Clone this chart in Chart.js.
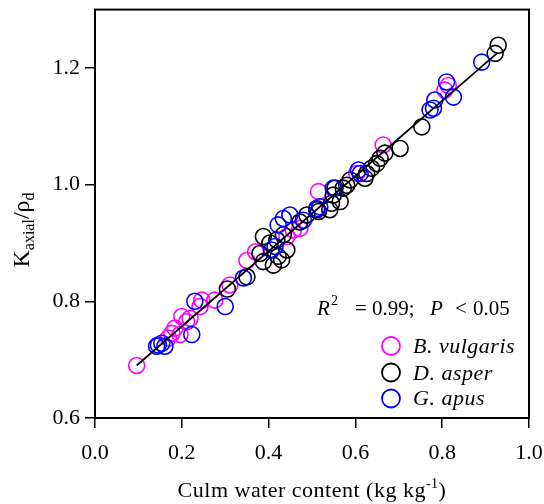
<!DOCTYPE html>
<html><head><meta charset="utf-8">
<script src="https://cdn.jsdelivr.net/npm/chart.js@4"></script>
<style>html,body{margin:0;padding:0;background:#fff}#wrap{width:544px;height:504px}</style>
</head><body><div id="wrap"><canvas id="c" width="544" height="504"></canvas></div>
<script>
// ---- data ----
const bvX=[0.096,0.169,0.177,0.184,0.196,0.200,0.211,0.219,0.242,0.246,0.276,0.311,0.350,0.370,0.442,0.457,0.472,0.515,0.603,0.664,0.806,0.814];
const bvY=[0.690,0.737,0.745,0.754,0.743,0.774,0.765,0.771,0.791,0.802,0.802,0.828,0.870,0.885,0.911,0.922,0.925,0.988,1.019,1.068,1.162,1.170];
const daX=[0.305,0.350,0.380,0.388,0.388,0.403,0.411,0.419,0.422,0.430,0.434,0.442,0.472,0.488,0.511,0.515,0.541,0.545,0.549,0.553,0.565,0.572,0.580,0.588,0.622,0.626,0.637,0.649,0.657,0.668,0.703,0.753,0.922,0.929];
const daY=[0.821,0.842,0.882,0.868,0.911,0.900,0.862,0.905,0.877,0.871,0.914,0.888,0.936,0.948,0.957,0.954,0.957,0.968,0.982,0.994,0.971,0.994,0.999,1.008,1.011,1.019,1.028,1.036,1.045,1.054,1.062,1.099,1.225,1.239];
const gaX=[0.142,0.146,0.154,0.161,0.223,0.230,0.300,0.342,0.407,0.415,0.422,0.434,0.449,0.480,0.511,0.518,0.549,0.607,0.611,0.772,0.780,0.783,0.810,0.826,0.891];
const gaY=[0.723,0.725,0.728,0.723,0.743,0.800,0.791,0.840,0.888,0.894,0.931,0.942,0.948,0.939,0.959,0.962,0.994,1.025,1.019,1.128,1.131,1.145,1.176,1.150,1.210];
const fitX=[0.096,0.926];
const fitY=[0.690,1.225];
const xTicks=[0.0,0.2,0.4,0.6,0.8,1.0];
const yTicks=[0.6,0.8,1.0,1.2];
const seriesNames=['B. vulgaris','D. asper','G. apus'];
const seriesColors=['#ff00ff','#000000','#0000ff'];

function pts(xs,ys){return xs.map((x,i)=>({x:x,y:ys[i]}));}
const SERIF='"Liberation Serif","Times New Roman",serif';

const annotPlugin={
  id:'annot',
  afterDraw(chart){
    const ctx=chart.ctx, a=chart.chartArea;
    ctx.save();
    // frame
    ctx.strokeStyle='#000'; ctx.lineWidth=2;
    ctx.strokeRect(a.left,a.top,a.right-a.left,a.bottom-a.top);
    ctx.fillStyle='#000';
    ctx.textBaseline='alphabetic';
    ctx.textAlign='left';
    // R^2 statement
    ctx.font='italic 21px '+SERIF; ctx.fillText('R',317,315);
    ctx.font='14px '+SERIF; ctx.fillText('2',331,305);
    ctx.font='21px '+SERIF; ctx.fillText('= 0.99;',355,315);
    ctx.font='italic 21px '+SERIF; ctx.fillText('P',430,315);
    ctx.font='21px '+SERIF; ctx.fillText('<',455,315); ctx.fillText('0.05',473,315);
    // legend
    const ly=[346,372.5,398.5], lb=[353,379.5,405];
    for(let i=0;i<3;i++){
      ctx.beginPath(); ctx.strokeStyle=seriesColors[i]; ctx.lineWidth=1.8;
      ctx.arc(391,ly[i],9,0,Math.PI*2); ctx.stroke();
      ctx.fillStyle='#000'; ctx.font='italic 22px '+SERIF;
      ctx.letterSpacing='0.5px';
      ctx.fillText(seriesNames[i],413,lb[i]);
      ctx.letterSpacing='0px';
    }
    // x title
    const big='22px '+SERIF, sm='14px '+SERIF;
    const t1='Culm water content (kg kg', t2='-1', t3=')';
    ctx.letterSpacing='0.5px';
    ctx.font=big; const w1=ctx.measureText(t1).width, w3=ctx.measureText(t3).width;
    ctx.font=sm; const w2=ctx.measureText(t2).width;
    let x0=312-(w1+w2+w3)/2;
    ctx.font=big; ctx.fillText(t1,x0,497);
    ctx.font=sm; ctx.fillText(t2,x0+w1,488);
    ctx.font=big; ctx.fillText(t3,x0+w1+w2,497);
    ctx.letterSpacing='0px';
    // y title rotated
    ctx.translate(29,230); ctx.rotate(-Math.PI/2);
    const parts=[['K','24px',0],['axial','16px',5],['/','24px',0],['\u03C1','24px',0],['d','16px',5]];
    let tw=0; parts.forEach(p=>{ctx.font=p[1]+' '+SERIF; p.w=ctx.measureText(p[0]).width; tw+=p.w;});
    let cx=-tw/2;
    parts.forEach(p=>{ctx.font=p[1]+' '+SERIF; ctx.fillText(p[0],cx,p[2]); cx+=p.w;});
    ctx.restore();
  }
};

const tickFont={family:'Liberation Serif',size:22};
new Chart(document.getElementById('c'),{
  type:'scatter',
  data:{datasets:[
    {type:'line',data:pts(fitX,fitY),borderColor:'#000',borderWidth:1.8,pointRadius:0,fill:false,order:0},
    {data:pts(gaX,gaY),borderColor:seriesColors[2],backgroundColor:'rgba(0,0,0,0)',pointRadius:8,borderWidth:1.6,order:1},
    {data:pts(daX,daY),borderColor:seriesColors[1],backgroundColor:'rgba(0,0,0,0)',pointRadius:8,borderWidth:1.6,order:2},
    {data:pts(bvX,bvY),borderColor:seriesColors[0],backgroundColor:'rgba(0,0,0,0)',pointRadius:8,borderWidth:1.6,order:3}
  ]},
  options:{
    responsive:false,animation:false,
    plugins:{legend:{display:false},tooltip:{enabled:false}},
    layout:{padding:{left:0,right:15,top:9,bottom:0}},
    scales:{
      x:{type:'linear',min:0,max:1,
        afterBuildTicks:s=>{s.ticks=xTicks.map(v=>({value:v}));},
        afterFit:s=>{s.height=86;s.paddingLeft=0;s.paddingRight=0;},
        ticks:{callback:v=>Number(v).toFixed(1),font:tickFont,color:'#000',padding:12,maxRotation:0,autoSkip:false},
        grid:{drawOnChartArea:false,drawTicks:true,tickLength:10,color:'#000',lineWidth:1.5},
        border:{display:true,color:'#000',width:2}},
      y:{type:'linear',min:0.6,max:1.3,
        afterBuildTicks:s=>{s.ticks=yTicks.map(v=>({value:v}));},
        afterFit:s=>{s.width=95;s.paddingTop=0;s.paddingBottom=0;},
        ticks:{callback:v=>Number(v).toFixed(1),font:tickFont,color:'#000',padding:5,autoSkip:false},
        grid:{drawOnChartArea:false,drawTicks:true,tickLength:10,color:'#000',lineWidth:1.5},
        border:{display:true,color:'#000',width:2}}
    }
  },
  plugins:[annotPlugin]
});
</script></body></html>
